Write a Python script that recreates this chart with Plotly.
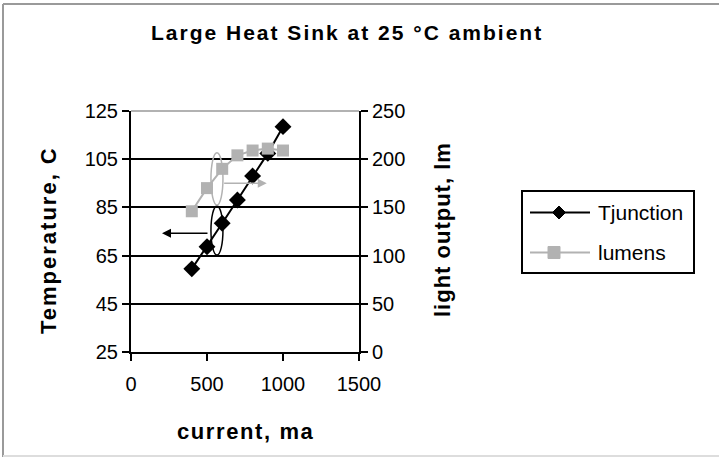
import plotly.graph_objects as go

current_ma = [400, 500, 600, 700, 800, 900, 1000]
tjunction_c = [59.5, 68.7, 78.4, 88.1, 98.0, 107.4, 118.5]
lumens_lm = [146, 170, 190, 204, 209, 211, 209]

series_names = ["Tjunction", "lumens"]
title_text = "Large Heat Sink at 25 °C ambient"
x_title = "current, ma"
y_title = "Temperature, C"
y2_title = "light output, lm"

W, H = 719, 457
L, R, T, B = 131, 359, 111, 352
pw, ph = R - L, B - T


def px(xp):
    return (xp - L) / pw


def py(yp):
    return (B - yp) / ph


FONT = "Liberation Sans, Arial, sans-serif"
GRAY = "#b2b2b2"


def spaced(text, sp, bold=True):
    inner = '<span style="letter-spacing:%spx">%s</span>' % (sp, text)
    return "<b>" + inner + "</b>" if bold else inner


fig = go.Figure()
fig.add_trace(go.Scatter(
    x=current_ma, y=tjunction_c, name=series_names[0], mode="lines+markers",
    line=dict(color="black", width=2),
    marker=dict(symbol="diamond", size=13, color="black"),
    yaxis="y", showlegend=False))
fig.add_trace(go.Scatter(
    x=current_ma, y=lumens_lm, name=series_names[1], mode="lines+markers",
    line=dict(color=GRAY, width=2),
    marker=dict(symbol="square", size=12, color=GRAY),
    yaxis="y2", showlegend=False))

axis_font = dict(family=FONT, size=20, color="black")
common_axis = dict(
    showline=True, linecolor="black", linewidth=2, zeroline=False,
    ticks="outside", ticklen=7, tickwidth=2, tickcolor="black",
    tickfont=axis_font,
)
NB = "\u00a0"

fig.update_layout(
    width=W, height=H,
    margin=dict(l=L, r=W - R, t=T, b=H - B, pad=0),
    paper_bgcolor="white", plot_bgcolor="white",
    font=dict(family=FONT, color="black"),
    showlegend=False,
    xaxis=dict(range=[0, 1500], tickvals=[0, 500, 1000, 1500],
               showgrid=False, ticklabelstandoff=6, **common_axis),
    yaxis=dict(range=[25, 125], tickvals=[25, 45, 65, 85, 105, 125],
               ticksuffix=NB, showgrid=True, gridcolor="black", gridwidth=2,
               **common_axis),
    yaxis2=dict(range=[0, 250], tickvals=[0, 50, 100, 150, 200, 250],
                tickprefix=NB, overlaying="y", side="right", anchor="x",
                showgrid=False, **common_axis),
)

shapes = [
    # outer frame (left/top/bottom edges visible)
    dict(type="line", xref="paper", yref="paper",
         x0=px(3), x1=px(3), y0=py(457), y1=py(4),
         line=dict(color="#9a9a9a", width=2)),
    dict(type="line", xref="paper", yref="paper",
         x0=px(3), x1=px(719), y0=py(4), y1=py(4),
         line=dict(color="#9a9a9a", width=2)),
    dict(type="line", xref="paper", yref="paper",
         x0=px(3), x1=px(719), y0=py(456), y1=py(456),
         line=dict(color="#dddddd", width=2)),
    # top border of plot area (gray)
    dict(type="line", xref="paper", yref="paper",
         x0=0, x1=1, y0=1, y1=1, line=dict(color=GRAY, width=2)),
    # black ellipse around Tjunction points
    dict(type="circle", xref="x", yref="y",
         x0=526, x1=605, y0=65.2, y1=85.6,
         line=dict(color="black", width=1.5)),
    # gray ellipse around lumens points
    dict(type="circle", xref="x", yref="y",
         x0=526, x1=605, y0=86, y1=107.7,
         line=dict(color=GRAY, width=1.5)),
    # legend box
    dict(type="rect", xref="paper", yref="paper",
         x0=px(522), x1=px(694), y0=py(273), y1=py(191),
         line=dict(color="black", width=2), fillcolor="white"),
    # legend row 1: black line + diamond
    dict(type="line", xref="paper", yref="paper",
         x0=px(530), x1=px(590), y0=py(212.5), y1=py(212.5),
         line=dict(color="black", width=2)),
    dict(type="path", xref="paper", yref="paper",
         path="M %f,%f L %f,%f L %f,%f L %f,%f Z" % (
             px(559), py(206), px(565.5), py(212.5),
             px(559), py(219), px(552.5), py(212.5)),
         fillcolor="black", line=dict(color="black", width=1)),
    # legend row 2: gray line + square
    dict(type="line", xref="paper", yref="paper",
         x0=px(530), x1=px(590), y0=py(252.5), y1=py(252.5),
         line=dict(color=GRAY, width=2)),
    dict(type="rect", xref="paper", yref="paper",
         x0=px(548), x1=px(560), y0=py(258.5), y1=py(246.5),
         fillcolor=GRAY, line=dict(color=GRAY, width=1)),
]
fig.update_layout(shapes=shapes)

annotations = [
    dict(text=spaced(title_text, 2), xref="paper", yref="paper",
         x=px(347), y=py(32), xanchor="center", yanchor="middle",
         showarrow=False, font=dict(family=FONT, size=21, color="black")),
    dict(text=spaced(y_title, 2), xref="paper", yref="paper",
         x=px(48), y=py(240), xanchor="center", yanchor="middle", textangle=-90,
         showarrow=False, font=dict(family=FONT, size=22, color="black")),
    dict(text=spaced(y2_title, 1), xref="paper", yref="paper",
         x=px(442), y=py(230), xanchor="center", yanchor="middle", textangle=-90,
         showarrow=False, font=dict(family=FONT, size=22, color="black")),
    dict(text=spaced(x_title, 1.6), xref="paper", yref="paper",
         x=px(245), y=py(431), xanchor="center", yanchor="middle",
         showarrow=False, font=dict(family=FONT, size=22, color="black")),
    # legend labels
    dict(text=series_names[0], xref="paper", yref="paper",
         x=px(596), y=py(212.5), xanchor="left", yanchor="middle",
         showarrow=False, font=dict(family=FONT, size=21, color="black")),
    dict(text=series_names[1], xref="paper", yref="paper",
         x=px(596), y=py(252.5), xanchor="left", yanchor="middle",
         showarrow=False, font=dict(family=FONT, size=21, color="black")),
    # black arrow to left axis
    dict(x=204, y=74.3, ax=513, ay=74.3, xref="x", yref="y", axref="x", ayref="y",
         text="", showarrow=True, arrowhead=2, arrowsize=1.2, arrowwidth=1.5,
         arrowcolor="black", standoff=0, startstandoff=0),
    # gray arrow to right axis
    dict(x=893, y=95, ax=603, ay=95, xref="x", yref="y", axref="x", ayref="y",
         text="", showarrow=True, arrowhead=2, arrowsize=1.2, arrowwidth=1.5,
         arrowcolor=GRAY, standoff=0, startstandoff=0),
]
fig.update_layout(annotations=annotations)

fig.write_html(
    "out.html",
    config={"displayModeBar": False},
    post_script="document.body.style.margin='0';document.body.style.overflow='hidden';",
)
